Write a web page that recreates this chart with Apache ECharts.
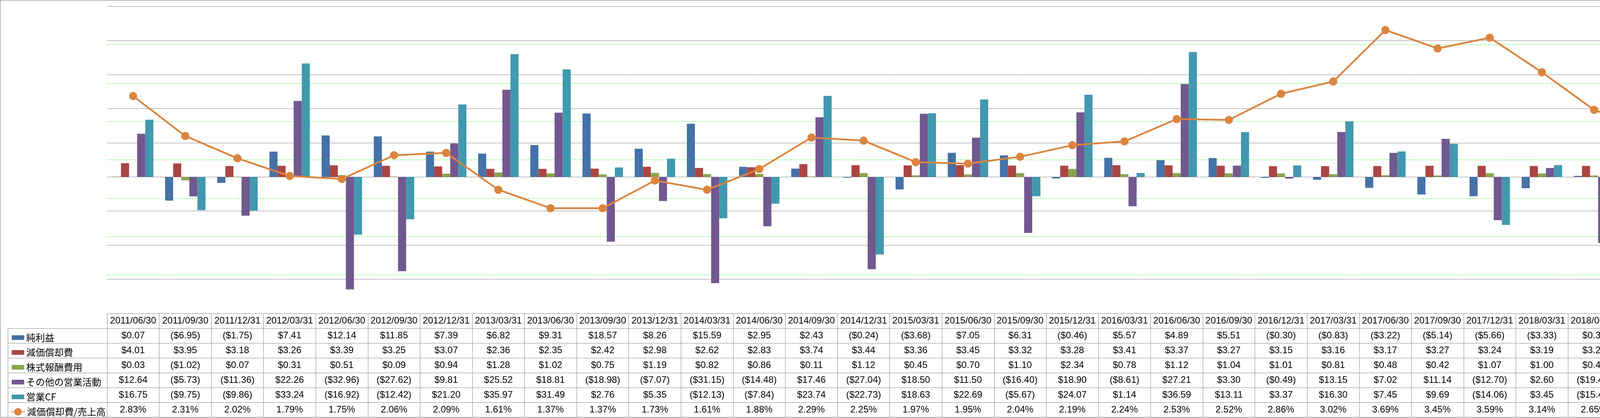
<!DOCTYPE html>
<html><head><meta charset="utf-8">
<script src="https://cdn.jsdelivr.net/npm/echarts@6/dist/echarts.min.js"></script>
<style>html,body{margin:0;padding:0;background:#fff}#c{width:5876px;height:1071px}</style>
</head><body><div id="c"></div>
<script>
const dates = ['2011/06/30','2011/09/30','2011/12/31','2012/03/31','2012/06/30','2012/09/30','2012/12/31','2013/03/31','2013/06/30','2013/09/30','2013/12/31','2014/03/31','2014/06/30','2014/09/30','2014/12/31','2015/03/31','2015/06/30','2015/09/30','2015/12/31','2016/03/31','2016/06/30','2016/09/30','2016/12/31','2017/03/31','2017/06/30','2017/09/30','2017/12/31','2018/03/31','2018/06/30','2018/09/30','2018/12/31','2019/03/31','2019/06/30','2019/09/30','2019/12/31','2020/03/31','2020/06/30','2020/09/30','2020/12/31','2021/03/31'];
const netIncome = [0.07,-6.95,-1.75,7.41,12.14,11.85,7.39,6.82,9.31,18.57,8.26,15.59,2.95,2.43,-0.24,-3.68,7.05,6.31,-0.46,5.57,4.89,5.51,-0.30,-0.83,-3.22,-5.14,-5.66,-3.33,0.30,1.54,-2.70,0.96,5.09,6.54,2.78,7.42,3.48,2.98,-0.36,-0.23];
const depreciation = [4.01,3.95,3.18,3.26,3.39,3.25,3.07,2.36,2.35,2.42,2.98,2.62,2.83,3.74,3.44,3.36,3.45,3.32,3.28,3.41,3.37,3.27,3.15,3.16,3.17,3.27,3.24,3.19,3.23,3.25,3.22,3.24,2.95,2.62,2.60,2.64,2.64,2.66,2.63,2.66];
const stockComp = [0.03,-1.02,0.07,0.31,0.51,0.09,0.94,1.28,1.02,0.75,1.19,0.82,0.86,0.11,1.12,0.45,0.70,1.10,2.34,0.78,1.12,1.04,1.01,0.81,0.48,0.42,1.07,1.00,0.42,0.67,1.22,0.67,0.33,1.62,0.98,0.97,0.44,1.08,0.89,0.85];
const otherOps = [12.64,-5.73,-11.36,22.26,-32.96,-27.62,9.81,25.52,18.81,-18.98,-7.07,-31.15,-14.48,17.46,-27.04,18.50,11.50,-16.40,18.90,-8.61,27.21,3.30,-0.49,13.15,7.02,11.14,-12.70,2.60,-19.40,-7.94,7.36,12.07,-0.48,24.04,-4.25,-5.72,39.42,12.27,-28.34,3.81];
const operatingCF = [16.75,-9.75,-9.86,33.24,-16.92,-12.42,21.20,35.97,31.49,2.76,5.35,-12.13,-7.84,23.74,-22.73,18.63,22.69,-5.67,24.07,1.14,36.59,13.11,3.37,16.30,7.45,9.69,-14.06,3.45,-15.45,-2.49,9.11,16.94,7.89,34.82,2.11,5.31,45.98,18.99,-25.18,7.10];
const depRatio = [2.83,2.31,2.02,1.79,1.75,2.06,2.09,1.61,1.37,1.37,1.73,1.61,1.88,2.29,2.25,1.97,1.95,2.04,2.19,2.24,2.53,2.52,2.86,3.02,3.69,3.45,3.59,3.14,2.65,2.41,2.95,2.62,2.17,1.77,1.94,1.74,2.23,2.32,2.47,2.24];
const seriesNames = ['純利益','減価償却費','株式報酬費用','その他の営業活動','営業CF','減価償却費/売上高'];
const dollarTicks = {min:-40, max:50, interval:10};
const pctTicks = {min:0, max:4, interval:0.5};
const unitText = '(単位: 百万USD)';

const colors = ['#4572A7','#AA4643','#89A54E','#71588F','#4198AF','#DB843D'];
const latin = "'Liberation Sans', 'Noto Sans CJK JP', sans-serif";
const cjk = "'Noto Sans CJK JP', sans-serif";
const gray = '#888888';
const money = v => v < 0 ? '($' + (-v).toFixed(2) + ')' : '$' + v.toFixed(2);

const chart = echarts.init(document.getElementById('c'));
const barSeries = [netIncome, depreciation, stockComp, otherOps, operatingCF].map((d, i) => ({
  name: seriesNames[i], type: 'bar', data: d, xAxisIndex: 0, yAxisIndex: 0,
  itemStyle: {color: colors[i]}, barGap: '0%', barCategoryGap: '22.5%'
}));
const lineSeries = {
  name: seriesNames[5], type: 'line', data: depRatio, xAxisIndex: 0, yAxisIndex: 1,
  symbol: 'circle', symbolSize: 21, z: 5,
  lineStyle: {color: colors[5], width: 4.5}, itemStyle: {color: colors[5]}
};
const barLegendData = seriesNames.slice(0,5).map(n => ({name: n, icon: 'rect'}));
const legendText = {fontSize: 24, lineHeight: 38, fontFamily: cjk, color: '#000'};

chart.setOption({
  animation: false,
  backgroundColor: '#fff',
  grid: [
    {left: 274, right: 259, top: 16, bottom: 268},
    {left: 274, right: 259, top: 803, bottom: 2},
    {left: 20, width: 254, top: 841, bottom: 2}
  ],
  legend: [
    {orient: 'vertical', left: 25, top: 841, itemGap: 0, itemWidth: 32, itemHeight: 12, itemTextGap: 4, data: barLegendData, textStyle: legendText},
    {orient: 'vertical', left: 22, top: 1031, itemGap: 0, itemWidth: 36, itemHeight: 24, itemTextGap: 3, data: [seriesNames[5]], textStyle: legendText},
    {orient: 'vertical', left: 5623, top: 841, itemGap: 0, itemWidth: 32, itemHeight: 12, itemTextGap: 4, data: barLegendData, textStyle: legendText},
    {orient: 'vertical', left: 5620, top: 1031, itemGap: 0, itemWidth: 36, itemHeight: 24, itemTextGap: 3, data: [seriesNames[5]], textStyle: legendText}
  ],
  xAxis: [
    {gridIndex: 0, type: 'category', data: dates, boundaryGap: true,
     axisLine: {show: false, onZero: false}, axisTick: {show: false}, splitLine: {show: false},
     axisLabel: {interval: 0, margin: 0, lineHeight: 38,
       formatter: (val, idx) => [val, money(netIncome[idx]), money(depreciation[idx]), money(stockComp[idx]), money(otherOps[idx]), money(operatingCF[idx]), depRatio[idx].toFixed(2) + '%'].map(r => '{t|' + r + '}').join('\n'),
       rich: {t: {fontSize: 24, lineHeight: 38, fontFamily: latin, color: '#000'}}}},
    {gridIndex: 1, type: 'category', data: dates, boundaryGap: true,
     axisLine: {show: false}, axisTick: {show: false}, axisLabel: {show: false},
     splitLine: {show: true, interval: 0, lineStyle: {color: gray, width: 1}}},
    {gridIndex: 2, type: 'category', data: [''], boundaryGap: true,
     axisLine: {show: false}, axisTick: {show: false}, axisLabel: {show: false},
     splitLine: {show: true, interval: 0, lineStyle: {color: gray, width: 1}}}
  ],
  yAxis: [
    {gridIndex: 0, type: 'value', position: 'right', z: 1, min: dollarTicks.min, max: dollarTicks.max, interval: dollarTicks.interval,
     axisLine: {show: true, lineStyle: {color: gray, width: 1}}, axisTick: {show: false},
     splitLine: {show: true, lineStyle: {color: gray, width: 1}},
     axisLabel: {margin: 24, fontSize: 24, fontFamily: latin,
       formatter: v => v < 0 ? '{n|($' + (-v) + ')}' : '{p|$' + v + '}',
       rich: {n: {color: '#ff0000', fontSize: 24, fontFamily: latin}, p: {color: '#000', fontSize: 24, fontFamily: latin}}}},
    {gridIndex: 0, type: 'value', position: 'right', z: 0, offset: 80, min: pctTicks.min, max: pctTicks.max, interval: pctTicks.interval,
     axisLine: {show: true, lineStyle: {color: '#00ff00', width: 1, type: [4, 3]}},
     axisTick: {show: true, length: 7, lineStyle: {color: '#00ff00', width: 1}},
     splitLine: {show: true, lineStyle: {color: '#00ff00', width: 1, type: [4, 3]}},
     axisLabel: {margin: 23, fontSize: 24, fontFamily: latin, color: '#000', formatter: v => v.toFixed(2) + '%'}},
    {gridIndex: 1, type: 'value', min: 0, max: 7, interval: 1,
     axisLine: {show: false}, axisTick: {show: false}, axisLabel: {show: false},
     splitLine: {show: true, lineStyle: {color: gray, width: 1}}},
    {gridIndex: 2, type: 'value', min: 0, max: 6, interval: 1,
     axisLine: {show: false}, axisTick: {show: false}, axisLabel: {show: false},
     splitLine: {show: true, lineStyle: {color: gray, width: 1}}}
  ],
  graphic: [
    {type: 'rect', silent: true, shape: {x: 0.5, y: 0.5, width: 5874, height: 1069}, style: {fill: 'none', stroke: gray, lineWidth: 1.5}},
    {type: 'text', left: 5639, top: 818, style: {text: unitText, font: "19px 'Noto Sans CJK JP'", fill: '#222'}}
  ],
  series: [...barSeries, lineSeries]
});
</script></body></html>
